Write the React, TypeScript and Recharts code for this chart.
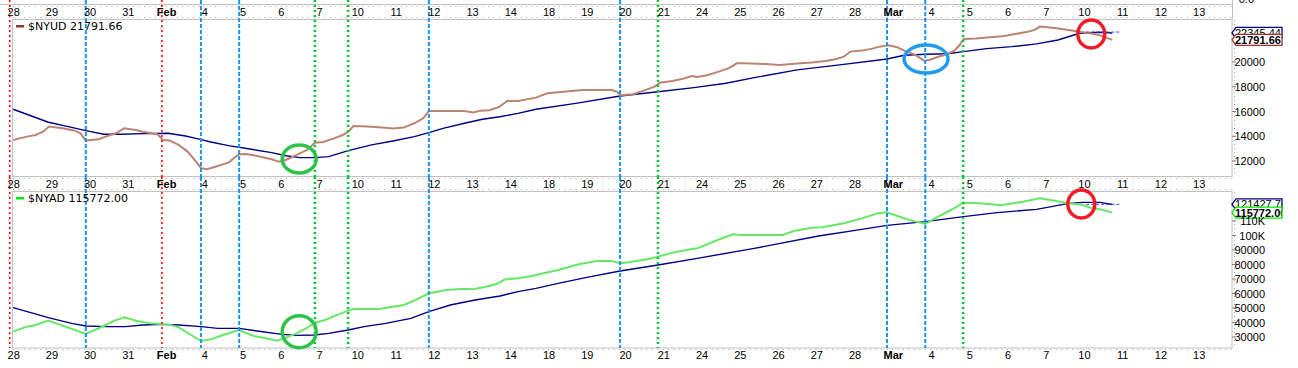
import React from 'react';
import { LineChart, Line, XAxis, YAxis, ReferenceLine, ReferenceDot, Legend } from 'recharts';

// ---------- categories (trading days) ----------
const dayLabels = ['28', '29', '30', '31', 'Feb', '4', '5', '6', '7', '10', '11', '12', '13', '14', '18', '19', '20', '21', '24', '25', '26', '27', '28', 'Mar', '4', '5', '6', '7', '10', '11', '12', '13'];
const monthLabels = ['Feb', 'Mar'];
const dayTicks = dayLabels.map((_, i) => i);

// ---------- $NYUD panel (t = trading-day position, v = value) ----------
const nyud: [number, number][] = [
  [0.0, 13700], [0.17, 13830], [0.36, 13970], [0.59, 14100], [0.78, 14370], [0.94, 14780], [1.29, 14640], [1.62, 14450], [1.76, 14240], [1.9, 13650],
  [2.23, 13750], [2.46, 14020], [2.69, 14240], [2.9, 14640], [3.21, 14510], [3.39, 14370], [3.77, 14160], [3.92, 13700], [4.09, 13650], [4.33, 13300],
  [4.56, 12760], [4.75, 12080], [4.92, 11410], [5.07, 11330], [5.35, 11600], [5.63, 11870], [5.9, 12540], [6.1, 12570], [6.38, 12410], [6.76, 12140],
  [6.94, 11950], [7.13, 12080], [7.41, 12490], [7.69, 12890], [7.89, 13480], [8.11, 13540], [8.39, 13830], [8.62, 14100], [8.76, 14370], [8.9, 14830],
  [9.28, 14780], [9.65, 14700], [9.93, 14620], [10.21, 14700], [10.49, 15050], [10.72, 15450], [10.87, 16040], [11.24, 16040], [11.8, 16040], [12.03, 15930],
  [12.22, 16070], [12.45, 16100], [12.69, 16340], [12.92, 16850], [13.2, 16850], [13.67, 17120], [13.97, 17470], [14.25, 17550], [14.53, 17630], [14.9, 17740],
  [15.65, 17740], [15.79, 17600], [15.88, 17310], [16.21, 17390], [16.49, 17690], [16.77, 18010], [16.91, 18330], [17.24, 18470], [17.51, 18650], [17.75, 18870],
  [17.89, 18790], [18.17, 18950], [18.45, 19220], [18.73, 19520], [18.92, 19890], [19.1, 19890], [19.66, 19840], [20.04, 19760], [20.5, 19870], [20.88, 19950],
  [21.25, 20080], [21.53, 20240], [21.72, 20430], [21.89, 20840], [22.19, 20920], [22.47, 21080], [22.65, 21240], [22.88, 21350], [23.12, 21190], [23.3, 20920],
  [23.59, 20570], [23.82, 20110], [23.96, 20160], [24.15, 20380], [24.43, 20650], [24.61, 20920], [24.75, 21370], [24.85, 21860], [25.17, 21890], [25.55, 21990],
  [25.92, 22100], [26.2, 22260], [26.53, 22450], [26.71, 22590], [26.85, 22860], [27.23, 22750], [27.6, 22590], [27.88, 22450], [28.16, 22320], [28.42, 22150],
  [28.74, 21791.66],
];
const nyudAvg: [number, number][] = [
  [0.0, 16180], [0.92, 15130], [1.53, 14720], [1.9, 14450], [2.37, 14160], [2.83, 14160], [3.39, 14210], [4.05, 14240], [4.51, 14020], [4.89, 13750],
  [5.17, 13540], [5.63, 13240], [6.19, 12970], [6.76, 12680], [7.13, 12430], [7.5, 12270], [7.88, 12270], [8.25, 12350], [8.76, 12840], [9.37, 13300],
  [9.93, 13620], [10.49, 13970], [10.87, 14290], [11.24, 14640], [11.8, 15050], [12.27, 15370], [12.73, 15580], [13.2, 15850], [13.67, 16180], [14.71, 16660],
  [15.87, 17250], [16.86, 17600], [17.8, 17930], [18.64, 18280], [19.38, 18740], [20.5, 19360], [21.72, 19810], [22.85, 20240], [23.3, 20540], [23.85, 20620],
  [24.43, 20670], [24.85, 20840], [25.45, 21080], [26.11, 21240], [26.76, 21460], [27.32, 21780], [27.88, 22320], [28.42, 22400], [28.74, 22345.44],
];
const nyudProjection: [number, number][] = [[28.06, 22420], [28.97, 22420]];
const nyudTicks = [12000, 14000, 16000, 18000, 20000];
const nyudLast = 21791.66;
const nyudAvgLast = 22345.44;
const nyudCircles = [
  { t: 7.48, v: 12160 },
  { t: 23.87, v: 20240 },
  { t: 28.19, v: 22262 },
];

// ---------- $NYAD panel ----------
const nyad: [number, number][] = [
  [0.0, 33680], [0.36, 37130], [0.59, 38280], [0.92, 41270], [1.9, 32070], [2.37, 37590], [2.65, 41270], [2.91, 43560], [3.21, 41270], [3.58, 39430],
  [3.92, 38740], [4.09, 38510], [4.33, 36670], [4.61, 32070], [4.92, 27240], [5.17, 28390], [5.49, 31380], [5.9, 34830], [6.29, 30690], [6.57, 29310],
  [6.9, 27470], [7.13, 29540], [7.41, 32530], [7.69, 36440], [7.89, 39890], [8.16, 41730], [8.44, 44940], [8.76, 48160], [8.9, 49310], [9.56, 49310],
  [9.93, 50920], [10.21, 52070], [10.49, 55060], [10.87, 60120], [11.33, 62420], [11.8, 63340], [12.03, 62880], [12.36, 64720], [12.64, 66560], [12.87, 69770],
  [13.2, 70460], [13.57, 72070], [13.78, 73450], [14.25, 76210], [14.81, 80350], [15.27, 82420], [15.65, 82420], [15.87, 80810], [16.11, 81500], [16.58, 83570],
  [16.86, 85410], [17.23, 88170], [17.61, 90000], [17.89, 91150], [18.35, 96210], [18.82, 100810], [19.01, 100350], [20.13, 100350], [20.41, 103110], [20.88, 105410],
  [21.16, 105640], [21.72, 108400], [22.19, 111840], [22.61, 115290], [22.84, 115980], [23.12, 113450], [23.49, 110240], [23.85, 107940], [24.15, 112530], [24.52, 117590],
  [24.85, 122650], [25.27, 122190], [25.83, 120810], [26.39, 123340], [26.85, 125640], [27.23, 124030], [27.6, 122190], [27.98, 121040], [28.21, 118740], [28.42, 118050],
  [28.74, 115772.0],
];
const nyadAvg: [number, number][] = [
  [0.0, 50230], [0.92, 43330], [1.53, 39430], [1.9, 37590], [2.46, 37130], [2.93, 37130], [3.39, 38280], [3.92, 38740], [4.33, 38280], [4.92, 37130],
  [5.35, 35980], [5.9, 35980], [6.38, 34140], [7.03, 31840], [7.41, 31150], [7.88, 31380], [8.25, 32530], [8.76, 34830], [9.18, 37130], [9.74, 39430],
  [10.4, 42870], [10.87, 47470], [11.43, 52070], [12.08, 55520], [12.73, 58280], [13.2, 61270], [13.67, 63570], [14.25, 67010], [15.0, 71150], [15.87, 75520],
  [16.86, 79660], [17.89, 84260], [19.38, 91150], [21.06, 99660], [22.19, 104260], [22.85, 107020], [23.85, 109550], [24.85, 112990], [25.73, 115750], [26.76, 118050],
  [27.6, 122190], [27.98, 122880], [28.42, 122880], [28.74, 121427.76],
];
const nyadProjection: [number, number][] = [[28.06, 121500], [28.97, 121500]];
const nyadTicks = [30000, 40000, 50000, 60000, 70000, 80000, 90000, 100000, 110000];
const nyadLast = 115772.0;
const nyadAvgLast = 121427.76;
const nyadCircles = [
  { t: 7.48, v: 33660 },
  { t: 27.93, v: 121730 },
];

// ---------- vertical markers (trading-day positions) ----------
const blueDashDays = [1.9, 4.91, 5.91, 10.87, 15.87, 22.85, 23.85];
const greenDotDays = [7.89, 8.76, 16.86, 24.84];
const redDotDays = [-0.09, 3.89];

// ---------- helpers ----------
const rows = (pts: [number, number][]) => pts.map(([t, v]) => ({ t, v }));
const X_DOMAIN: [number, number] = [-0.03, 31.87];
const FONT = "'Liberation Sans', Arial, sans-serif";
const GRID = '#c0c0c0';

const fmtNum = (v: number) => (v >= 100000 ? `${Math.round(v / 1000)}K` : `${v}`);

const makeXTick = (dy: number) => (props: any) => {
  const { x, y, payload } = props;
  const label = dayLabels[payload.value];
  const bold = monthLabels.includes(label);
  return (
    <text x={x + 0.5} y={y + dy} textAnchor="middle" fontFamily={FONT} fontSize={11} fontWeight={bold ? 700 : 400} fill="#000">
      {label}
    </text>
  );
};

const YTick = (props: any) => {
  const { x, y, payload } = props;
  return (
    <text x={x + 29} y={y + 4} textAnchor="end" fontFamily={FONT} fontSize={11} fill="#000">
      {fmtNum(payload.value)}
    </text>
  );
};

const vShape = (top: number, bottom: number | null, stroke: string, width: number, dash: string) => (p: any) => {
  const yb = bottom === null ? Math.max(p.y1, p.y2) : bottom;
  return <line x1={p.x1} x2={p.x2} y1={top} y2={yb} stroke={stroke} strokeWidth={width} strokeDasharray={dash} />;
};

const ellipseShape = (color: string, rx: number, ry: number) => (p: any) => (
  <ellipse cx={p.cx} cy={p.cy} rx={rx} ry={ry} fill="none" stroke={color} strokeWidth={3.5} />
);

const badgeShape = (text: string, stroke: string, bold: boolean) => (p: any) => {
  const { cx, cy } = p;
  const h = 11;
  const w = 50;
  return (
    <g>
      <polygon
        points={`${cx},${cy} ${cx + 4},${cy - h / 2} ${cx + w},${cy - h / 2} ${cx + w},${cy + h / 2} ${cx + 4},${cy + h / 2}`}
        fill="#fff"
        stroke={stroke}
        strokeWidth={1.3}
      />
      <svg x={cx + 2} y={cy - h / 2} width={w - 2.5} height={h} overflow="hidden">
        <text x={1} y={h / 2 + 4} fontFamily={FONT} fontSize={11} fontWeight={bold ? 700 : 400} fill="#000">
          {text}
        </text>
      </svg>
    </g>
  );
};

const legendContent = (label: string, color: string) => () => (
  <svg width={200} height={14} style={{ display: 'block' }}>
    <rect x={2} y={6} width={8} height={2.5} fill={color} />
    <text x={14} y={11} fontFamily="'DejaVu Sans', sans-serif" fontSize={11} fill="#000">
      {label}
    </text>
  </svg>
);

const verticalMarkers = (top: number, bottom: number | null, xAxisId?: string) => [
  ...redDotDays.map((d, i) => (
    <ReferenceLine key={`r${i}`} x={d} xAxisId={xAxisId} ifOverflow="visible" shape={vShape(top, bottom, '#ff0000', 1.6, '2 3')} />
  )),
  ...blueDashDays.map((d, i) => (
    <ReferenceLine key={`b${i}`} x={d} xAxisId={xAxisId} ifOverflow="visible" shape={vShape(top, bottom, '#1496f0', 2, '4 2')} />
  )),
  ...greenDotDays.map((d, i) => (
    <ReferenceLine key={`g${i}`} x={d} xAxisId={xAxisId} ifOverflow="visible" shape={vShape(top, bottom, '#00c832', 2.5, '2 3')} />
  )),
];

// ---------- frame (panel borders & minor tick rows) ----------
const Frame = () => (
  <svg width={1298} height={368} style={{ position: 'absolute', left: 0, top: 0 }}>
    <text x={1254} y={3} textAnchor="end" fontFamily={FONT} fontSize={11} fill="#000">0.0</text>
    <line x1={0} x2={1232} y1={4.5} y2={4.5} stroke={GRID} />
    <line x1={13} x2={1232} y1={6.5} y2={6.5} stroke="#a8a8a8" strokeDasharray="1 4.46" />
    <line x1={13} x2={1232} y1={17.5} y2={17.5} stroke="#a8a8a8" strokeDasharray="1 4.46" />
    <rect x={12.5} y={19.5} width={1219.5} height={157} fill="none" stroke={GRID} />
    <line x1={1232.5} x2={1232.5} y1={0} y2={19.5} stroke={GRID} />
    <line x1={13} x2={1232} y1={178.5} y2={178.5} stroke="#a8a8a8" strokeDasharray="1 4.46" />
    <line x1={13} x2={1232} y1={189.5} y2={189.5} stroke="#a8a8a8" strokeDasharray="1 4.46" />
    <rect x={12.5} y={191.5} width={1219.5} height={156.5} fill="none" stroke={GRID} />
    <line x1={13} x2={1232} y1={349.5} y2={349.5} stroke="#a8a8a8" strokeDasharray="1 4.46" />
    <line x1={1234.5} x2={1234.5} y1={20} y2={176} stroke="#a8a8a8" strokeDasharray="1 3" />
    <line x1={1234.5} x2={1234.5} y1={192} y2={348} stroke="#a8a8a8" strokeDasharray="1 3" />
  </svg>
);

export default function App() {
  return (
    <div style={{ position: 'absolute', left: 0, top: 0, width: 1298, height: 368, background: '#fff', overflow: 'hidden', fontFamily: FONT }}>
      <Frame />
      {/* ---------- $NYUD panel ---------- */}
      <div style={{ position: 'absolute', left: 0, top: 0 }}>
        <LineChart width={1298} height={177} margin={{ top: 4, right: 0, bottom: 1, left: 12 }}>
          <XAxis
            type="number"
            dataKey="t"
            orientation="top"
            height={15}
            domain={X_DOMAIN}
            allowDataOverflow
            ticks={dayTicks}
            interval={0}
            tickLine={false}
            axisLine={false}
            tickSize={0}
            tickMargin={0}
            tick={makeXTick(-3)}
          />
          <YAxis
            orientation="right"
            width={66}
            domain={[10789, 23474]}
            allowDataOverflow
            ticks={nyudTicks}
            interval={0}
            axisLine={false}
            tickSize={4}
            tickMargin={0}
            tickLine={{ stroke: '#808080' }}
            tick={YTick}
          />
          <Legend layout="vertical" align="center" verticalAlign="middle" wrapperStyle={{ left: 14, top: 19, width: 200 }} content={legendContent(`$NYUD ${nyudLast.toFixed(2)}`, '#993333')} />
          <Line data={rows(nyudAvg)} dataKey="v" type="linear" stroke="#000080" strokeWidth={1.4} dot={false} isAnimationActive={false} />
          <Line data={rows(nyud)} dataKey="v" type="linear" stroke="#bb8473" strokeWidth={2} dot={false} isAnimationActive={false} />
          <Line data={rows(nyudProjection)} dataKey="v" type="linear" stroke="#3c3cff" strokeWidth={1} strokeDasharray="3 2" dot={false} isAnimationActive={false} />
          {verticalMarkers(0, 177)}
          <ReferenceDot x={nyudCircles[0].t} y={nyudCircles[0].v} ifOverflow="visible" shape={ellipseShape('#2fc24a', 17, 14)} />
          <ReferenceDot x={nyudCircles[1].t} y={nyudCircles[1].v} ifOverflow="visible" shape={ellipseShape('#1e9cf0', 22, 14)} />
          <ReferenceDot x={nyudCircles[2].t} y={nyudCircles[2].v} ifOverflow="visible" shape={ellipseShape('#ee1c24', 13.5, 14)} />
          <ReferenceDot x={X_DOMAIN[1]} y={nyudAvgLast} ifOverflow="visible" shape={badgeShape(nyudAvgLast.toFixed(2), '#000080', false)} />
          <ReferenceDot x={X_DOMAIN[1]} y={nyudLast} ifOverflow="visible" shape={badgeShape(nyudLast.toFixed(2), '#993333', true)} />
        </LineChart>
      </div>
      {/* ---------- $NYAD panel ---------- */}
      <div style={{ position: 'absolute', left: 0, top: 177 }}>
        <LineChart width={1298} height={191} margin={{ top: 0, right: 0, bottom: 0, left: 12 }}>
          <XAxis
            xAxisId="top"
            type="number"
            dataKey="t"
            orientation="top"
            height={14}
            domain={X_DOMAIN}
            allowDataOverflow
            ticks={dayTicks}
            interval={0}
            tickLine={false}
            axisLine={false}
            tickSize={0}
            tickMargin={0}
            tick={makeXTick(-3)}
          />
          <XAxis
            xAxisId="bottom"
            type="number"
            dataKey="t"
            orientation="bottom"
            height={20}
            domain={X_DOMAIN}
            allowDataOverflow
            ticks={dayTicks}
            interval={0}
            tickLine={false}
            axisLine={false}
            tickSize={0}
            tickMargin={0}
            tick={makeXTick(11)}
          />
          <YAxis
            orientation="right"
            width={66}
            domain={[22413, 130696]}
            allowDataOverflow
            ticks={nyadTicks}
            interval={0}
            axisLine={false}
            tickSize={4}
            tickMargin={0}
            tickLine={{ stroke: '#808080' }}
            tick={YTick}
          />
          <Legend layout="vertical" align="center" verticalAlign="middle" wrapperStyle={{ left: 14, top: 14, width: 200 }} content={legendContent(`$NYAD ${nyadLast.toFixed(2)}`, '#00ee00')} />
          <Line xAxisId="bottom" data={rows(nyadAvg)} dataKey="v" type="linear" stroke="#000080" strokeWidth={1.4} dot={false} isAnimationActive={false} />
          <Line xAxisId="bottom" data={rows(nyad)} dataKey="v" type="linear" stroke="#66e866" strokeWidth={2} dot={false} isAnimationActive={false} />
          <Line xAxisId="bottom" data={rows(nyadProjection)} dataKey="v" type="linear" stroke="#3c3cff" strokeWidth={1} strokeDasharray="3 2" dot={false} isAnimationActive={false} />
          {verticalMarkers(0, null, 'bottom')}
          <ReferenceDot xAxisId="bottom" x={nyadCircles[0].t} y={nyadCircles[0].v} ifOverflow="visible" shape={ellipseShape('#2fc24a', 17, 16)} />
          <ReferenceDot xAxisId="bottom" x={nyadCircles[1].t} y={nyadCircles[1].v} ifOverflow="visible" shape={ellipseShape('#ee1c24', 13.5, 14)} />
          <ReferenceDot xAxisId="bottom" x={X_DOMAIN[1]} y={nyadAvgLast} ifOverflow="visible" shape={badgeShape(nyadAvgLast.toFixed(2), '#000080', false)} />
          <ReferenceDot xAxisId="bottom" x={X_DOMAIN[1]} y={nyadLast} ifOverflow="visible" shape={badgeShape(nyadLast.toFixed(2), '#00ee00', true)} />
        </LineChart>
      </div>
    </div>
  );
}
